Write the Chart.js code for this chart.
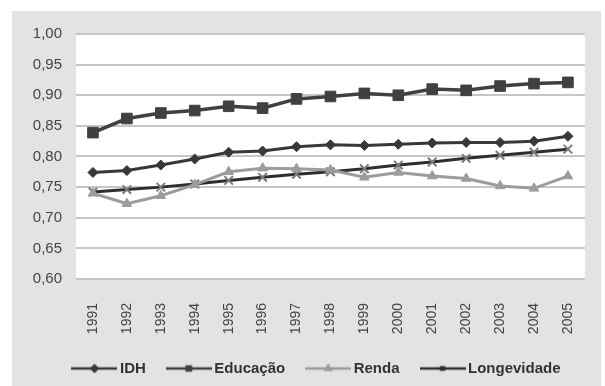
<!DOCTYPE html>
<html>
<head>
<meta charset="utf-8">
<script src="https://cdn.jsdelivr.net/npm/chart.js@4"></script>
<style>
  html, body { margin: 0; padding: 0; background: #fff; }
  #box { position: absolute; left: 12px; top: 11px; width: 589px; height: 375px; background: #e3e3e3; }
</style>
</head>
<body>
<div id="box"><canvas id="c" width="589" height="375"></canvas></div>
<script>
const anos = ['1991','1992','1993','1994','1995','1996','1997','1998','1999','2000','2001','2002','2003','2004','2005'];
const idh = [0.774, 0.777, 0.786, 0.796, 0.807, 0.809, 0.816, 0.819, 0.818, 0.820, 0.822, 0.823, 0.823, 0.825, 0.833];
const educacao = [0.839, 0.862, 0.871, 0.875, 0.882, 0.879, 0.894, 0.898, 0.903, 0.900, 0.910, 0.908, 0.915, 0.919, 0.921];
const renda = [0.740, 0.723, 0.736, 0.754, 0.775, 0.781, 0.780, 0.778, 0.766, 0.774, 0.768, 0.764, 0.752, 0.748, 0.768];
const longevidade = [0.742, 0.746, 0.750, 0.755, 0.761, 0.766, 0.771, 0.775, 0.780, 0.786, 0.791, 0.797, 0.802, 0.807, 0.812];
const yTicks = ['0,60','0,65','0,70','0,75','0,80','0,85','0,90','0,95','1,00'];

// pequenas imagens de linha+marcador para a legenda
function legendImg(cor, forma) {
  const cv = document.createElement('canvas');
  cv.width = 46; cv.height = 12;
  const g = cv.getContext('2d');
  g.strokeStyle = cor; g.fillStyle = cor; g.lineWidth = 2.5;
  g.beginPath(); g.moveTo(0, 6); g.lineTo(46, 6); g.stroke();
  Chart.helpers.drawPoint(g, { pointStyle: forma, radius: 3, borderWidth: 1.5 }, 23, 6);
  if (forma !== 'crossRot') g.fill();
  return cv;
}

const fundoPlot = {
  id: 'fundoPlot',
  beforeDraw(chart) {
    const a = chart.chartArea, ctx = chart.ctx;
    ctx.save();
    ctx.fillStyle = '#ffffff';
    ctx.fillRect(a.left, a.top, a.right - a.left, a.bottom - a.top);
    ctx.restore();
  }
};

// a legenda do original fica um pouco deslocada para a direita
const moveLegenda = {
  id: 'moveLegenda',
  afterLayout(chart) {
    chart.legend.left += 15;
    chart.legend.right += 15;
  }
};

const series = [
  { label: 'IDH', data: idh, cor: '#383838', forma: 'rectRot', r: 5, lw: 3 },
  { label: 'Educação', data: educacao, cor: '#404040', forma: 'rect', r: 7.5, lw: 3.5 },
  { label: 'Renda', data: renda, cor: '#9c9c9c', forma: 'triangle', r: 5.5, lw: 3 },
  { label: 'Longevidade', data: longevidade, cor: '#2e2e2e', forma: 'crossRot', r: 6, lw: 3 }
];

new Chart(document.getElementById('c'), {
  type: 'line',
  data: {
    labels: anos,
    datasets: series.map(s => ({
      label: s.label,
      data: s.data,
      borderColor: s.cor,
      backgroundColor: s.cor,
      borderWidth: s.lw,
      pointStyle: s.forma,
      pointRadius: s.r,
      pointBorderWidth: s.forma === 'crossRot' ? 2 : 1,
      pointBorderColor: s.forma === 'crossRot' ? '#7a7a7a' : s.cor,
      pointBackgroundColor: s.cor,
      tension: 0
    }))
  },
  options: {
    responsive: false,
    animation: false,
    layout: { padding: { top: 16, right: 6, left: 0, bottom: 0 } },
    plugins: {
      tooltip: { enabled: false },
      legend: {
        position: 'bottom',
        labels: {
          usePointStyle: true,
          pointStyleWidth: 36,
          padding: 25,
          color: '#333',
          font: { family: 'Liberation Sans', size: 15, weight: 'bold' },
          generateLabels(chart) {
            const itens = Chart.defaults.plugins.legend.labels.generateLabels(chart);
            itens.forEach((it, i) => { it.pointStyle = legendImg(series[i].cor, series[i].forma); });
            return itens;
          }
        }
      }
    },
    scales: {
      x: {
        offset: true,
        grid: { display: false },
        border: { display: false },
        ticks: {
          minRotation: 90, maxRotation: 90, padding: 16,
          color: '#444',
          font: { family: 'Liberation Sans', size: 14 }
        },
        afterFit(scale) { scale.height = 57; }
      },
      y: {
        min: 0.6, max: 1.0,
        border: { display: false },
        grid: { color: '#c6c6c6', lineWidth: 2, drawTicks: false },
        ticks: {
          stepSize: 0.05, padding: 14,
          color: '#444',
          font: { family: 'Liberation Sans', size: 15 },
          callback: (v, i) => yTicks[i]
        },
        afterFit(scale) { scale.width = 64; }
      }
    }
  },
  plugins: [fundoPlot, moveLegenda]
});
</script>
</body>
</html>
